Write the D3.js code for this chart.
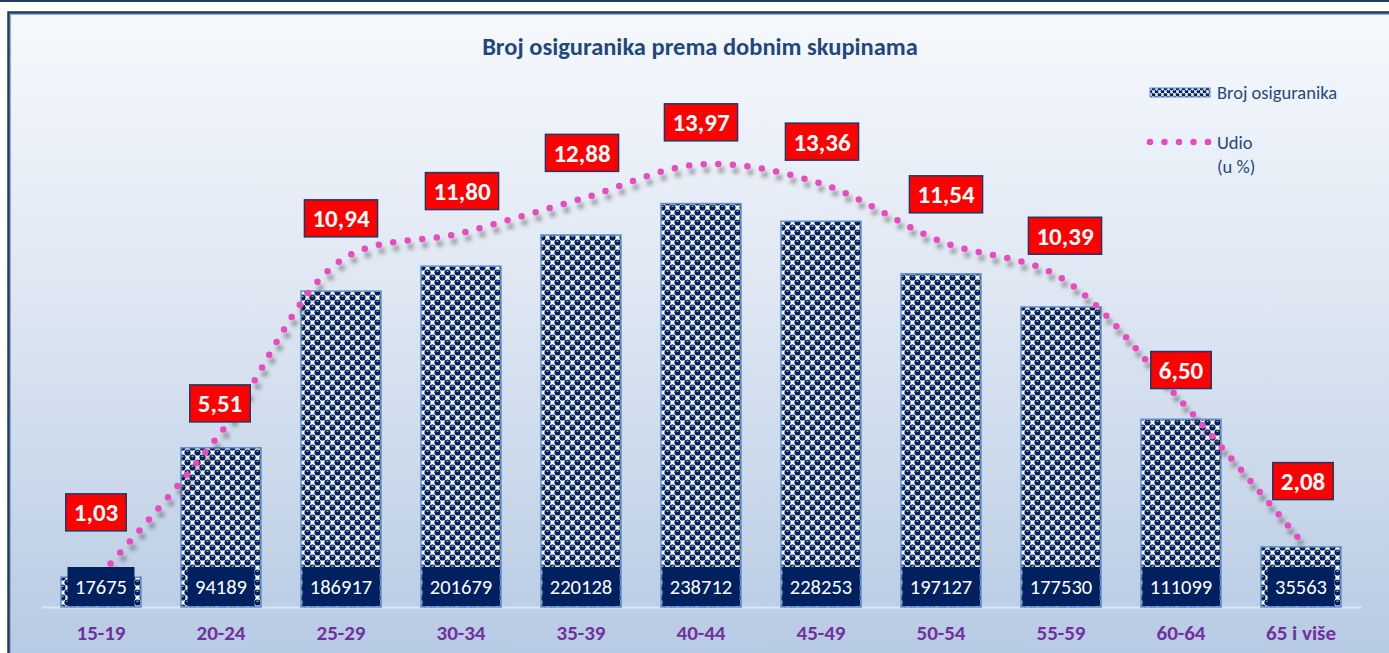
<!DOCTYPE html>
<html>
<head>
<meta charset="utf-8">
<script src="https://cdn.jsdelivr.net/npm/d3@7"></script>
<style>
  html, body { margin: 0; padding: 0; background: #ffffff; }
  svg { display: block; }
</style>
</head>
<body>
<svg id="chart" width="1389" height="653"></svg>
<script>
// Age groups, number of insured persons and their share (%)
const categories = ["15-19", "20-24", "25-29", "30-34", "35-39", "40-44", "45-49", "50-54", "55-59", "60-64", "65 i više"];
const insured = [17675, 94189, 186917, 201679, 220128, 238712, 228253, 197127, 177530, 111099, 35563];
const share = [1.03, 5.51, 10.94, 11.80, 12.88, 13.97, 13.36, 11.54, 10.39, 6.50, 2.08];
const shareLabels = ["1,03", "5,51", "10,94", "11,80", "12,88", "13,97", "13,36", "11,54", "10,39", "6,50", "2,08"];

// Hand-placed share labels: lift above the point and sideways shift (px)
const labelLift = [62, 29, 42, 42, 46, 42, 42, 47, 42, 31, 60];
const labelShift = [-5, -1, 0, 1, 1, 0, 1, 5, 4, 0, 2];

const W = 1389, H = 653;
const FONT = "Carlito, Calibri, Lato, 'Open Sans', sans-serif";
const NAVY = "#002060";
const svg = d3.select("#chart");
const defs = svg.append("defs");

// Background gradient of the chart area
const bg = defs.append("linearGradient").attr("id", "bgGrad")
  .attr("x1", 0).attr("y1", 0).attr("x2", 0).attr("y2", 1);
bg.append("stop").attr("offset", "0%").attr("stop-color", "#F6F9FD");
bg.append("stop").attr("offset", "45%").attr("stop-color", "#DDE6F2");
bg.append("stop").attr("offset", "100%").attr("stop-color", "#B6CAE3");

// Checker-and-dot fill for the bars: navy discs with white squares between them
function checkerPattern(id, s, k) {
  const p = defs.append("pattern").attr("id", id)
    .attr("patternUnits", "userSpaceOnUse").attr("width", s).attr("height", s);
  p.append("rect").attr("width", s).attr("height", s).attr("fill", "#ffffff");
  const r = s * k;
  const centres = [[0.75, 0.25], [0.25, 0.75]];
  centres.forEach(([u, v]) => {
    [-1, 0, 1].forEach(ox => [-1, 0, 1].forEach(oy => {
      p.append("circle").attr("cx", (u + ox) * s).attr("cy", (v + oy) * s)
        .attr("r", r).attr("fill", NAVY);
    }));
    p.append("rect").attr("x", u * s - s * 0.1).attr("y", v * s - s * 0.17)
      .attr("width", s * 0.2).attr("height", s * 0.08).attr("fill", "#ffffff");
  });
}
checkerPattern("checker", 10, 0.31);
checkerPattern("checkerSmall", 6, 0.31);

// Soft shadow under the dotted line
const sh = defs.append("filter").attr("id", "lineShadow")
  .attr("x", "-10%").attr("y", "-10%").attr("width", "120%").attr("height", "130%");
sh.append("feGaussianBlur").attr("stdDeviation", 2.2);

// Outer frame
svg.append("rect").attr("x", 0).attr("y", 0).attr("width", W).attr("height", 2).attr("fill", "#1F3864");
svg.append("rect").attr("x", 8).attr("y", 12).attr("width", W).attr("height", H)
  .attr("fill", "url(#bgGrad)");
svg.append("path").attr("d", `M8.5,${H} V12.5 H${W}`)
  .attr("fill", "none").attr("stroke", "#1F3864").attr("stroke-width", 2.5);
svg.append("path").attr("d", `M10.5,${H} V14.5 H${W}`)
  .attr("fill", "none").attr("stroke", "#8EA9CF").attr("stroke-width", 1);

// Scales
const x = d3.scaleBand().domain(categories).range([41, 1361])
  .paddingInner(1 / 3).paddingOuter(1 / 6);
const y = d3.scaleLinear().domain([0, 300000]).range([607, 100]);
const y2 = d3.scaleLinear().domain([0, 16]).range([607, 100]);
const cx = d => x(d) + x.bandwidth() / 2;

// Title
svg.append("text").attr("x", 700).attr("y", 55).attr("text-anchor", "middle")
  .attr("font-family", FONT).attr("font-weight", "bold").attr("font-size", 24.5)
  .attr("fill", "#1F497D").text("Broj osiguranika prema dobnim skupinama");

// Category axis
const xAxis = svg.append("g").attr("transform", "translate(0,607)")
  .call(d3.axisBottom(x).tickSize(0).tickPadding(18));
xAxis.select(".domain").attr("stroke", "#DCE6F2").attr("stroke-width", 2);
xAxis.selectAll("text").attr("font-family", FONT).attr("font-weight", "bold")
  .attr("font-size", 21).attr("fill", "#7030A0");

// Bars
svg.append("g").selectAll("rect").data(categories).join("rect")
  .attr("x", d => x(d)).attr("width", x.bandwidth())
  .attr("y", (d, i) => y(insured[i])).attr("height", (d, i) => y(0) - y(insured[i]))
  .attr("fill", "url(#checker)").attr("stroke", "#5F8FCB").attr("stroke-width", 1.5);

// Share line (smoothed, dotted) with its shadow
const pts = categories.map((c, i) => [cx(c), y2(share[i])]);
const line = d3.line().curve(d3.curveCatmullRom.alpha(0.5));
svg.append("path").attr("d", line(pts)).attr("transform", "translate(3,6)")
  .attr("fill", "none").attr("stroke", "rgba(60,60,60,0.55)").attr("stroke-width", 6)
  .attr("stroke-linecap", "round").attr("stroke-dasharray", "0 14.6")
  .attr("filter", "url(#lineShadow)");
svg.append("path").attr("d", line(pts))
  .attr("fill", "none").attr("stroke", "#E94BBE").attr("stroke-width", 6.5)
  .attr("stroke-linecap", "round").attr("stroke-dasharray", "0 14.6");

// Bar value labels on navy boxes
const vl = svg.append("g").selectAll("g").data(categories).join("g")
  .attr("transform", d => `translate(${cx(d)},586.5)`);
vl.append("rect").attr("fill", NAVY);
vl.append("text").attr("text-anchor", "middle").attr("dy", "0.36em")
  .attr("font-family", FONT).attr("font-size", 20.5).attr("fill", "#ffffff")
  .text((d, i) => insured[i]);
vl.each(function () {
  const g = d3.select(this);
  const w = g.select("text").node().getComputedTextLength() + 15;
  g.select("rect").attr("x", -w / 2).attr("y", -19.5).attr("width", w).attr("height", 39);
});

// Share labels on red boxes
const sl = svg.append("g").selectAll("g").data(categories).join("g")
  .attr("transform", (d, i) => `translate(${cx(d) + labelShift[i]},${y2(share[i]) - labelLift[i]})`);
sl.append("rect").attr("fill", "#FF0000").attr("stroke", "#1F3864").attr("stroke-width", 1.5);
sl.append("text").attr("text-anchor", "middle").attr("dy", "0.36em")
  .attr("font-family", FONT).attr("font-weight", "bold").attr("font-size", 25)
  .attr("fill", "#ffffff").text((d, i) => shareLabels[i]);
sl.each(function () {
  const g = d3.select(this);
  const w = g.select("text").node().getComputedTextLength() + 16;
  g.select("rect").attr("x", -w / 2).attr("y", -18.5).attr("width", w).attr("height", 37);
});

// Legend
const lg = svg.append("g");
lg.append("rect").attr("x", 1150).attr("y", 88).attr("width", 60).attr("height", 9)
  .attr("fill", "url(#checkerSmall)").attr("stroke", "#5F8FCB").attr("stroke-width", 1);
lg.append("text").attr("x", 1217).attr("y", 99).attr("font-family", FONT)
  .attr("font-size", 18.5).attr("fill", "#1F497D").text("Broj osiguranika");
lg.append("line").attr("x1", 1150).attr("x2", 1210).attr("y1", 142).attr("y2", 142)
  .attr("stroke", "#E94BBE").attr("stroke-width", 6.5).attr("stroke-linecap", "round")
  .attr("stroke-dasharray", "0 14.5");
lg.append("text").attr("x", 1217).attr("y", 149).attr("font-family", FONT)
  .attr("font-size", 18.5).attr("fill", "#1F497D").text("Udio");
lg.append("text").attr("x", 1217).attr("y", 173).attr("font-family", FONT)
  .attr("font-size", 18.5).attr("fill", "#1F497D").text("(u %)");
</script>
</body>
</html>
